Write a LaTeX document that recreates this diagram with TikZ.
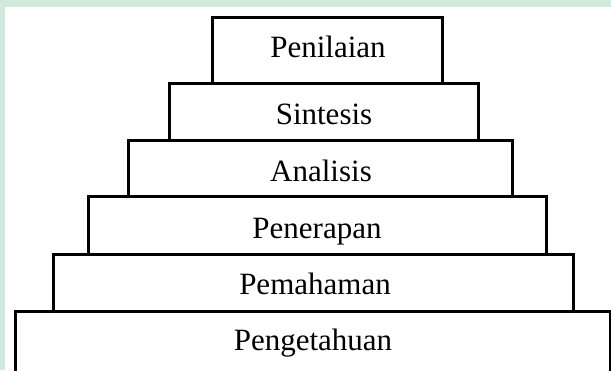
\documentclass[tikz,border=0pt]{standalone}
\usepackage{fontspec}
\setmainfont{Liberation Serif}
\definecolor{paleg}{HTML}{D2EADE}
\tikzset{
  stepbox/.style={draw=black, line width=3pt, fill=white, rectangle, inner sep=0pt},
  steptext/.style={anchor=base, inner sep=0pt, font=\fontsize{31}{33}\selectfont}
}
\begin{document}
\begin{tikzpicture}[x=1pt,y=-1pt]
\useasboundingbox (0,0) rectangle (611,370);
\clip (0,0) rectangle (611,370);
\fill[paleg] (0,0) rectangle (611,370);
\fill[white] (5,7) rectangle (611,370);
% boxes (bottom first)
\node[stepbox, minimum width=595pt, minimum height=70pt] (b6) at (312.5,346) {};
\node[stepbox, minimum width=520pt, minimum height=57pt] (b5) at (313,282.5) {};
\node[stepbox, minimum width=458pt, minimum height=58pt] (b4) at (317,225) {};
\node[stepbox, minimum width=384pt, minimum height=56pt] (b3) at (320,168) {};
\node[stepbox, minimum width=309pt, minimum height=57pt] (b2) at (323.5,111.5) {};
\node[stepbox, minimum width=230pt, minimum height=66pt] (b1) at (327,50) {};
% labels
\node[steptext] (t1) at (328,57) {Penilaian};
\node[steptext] (t2) at (324,124) {Sintesis};
\node[steptext] (t3) at (321,181) {Analisis};
\node[steptext] (t4) at (317,238) {Penerapan};
\node[steptext] (t5) at (315,294) {Pemahaman};
\node[steptext] (t6) at (313,350) {Pengetahuan};
\end{tikzpicture}
\end{document}
